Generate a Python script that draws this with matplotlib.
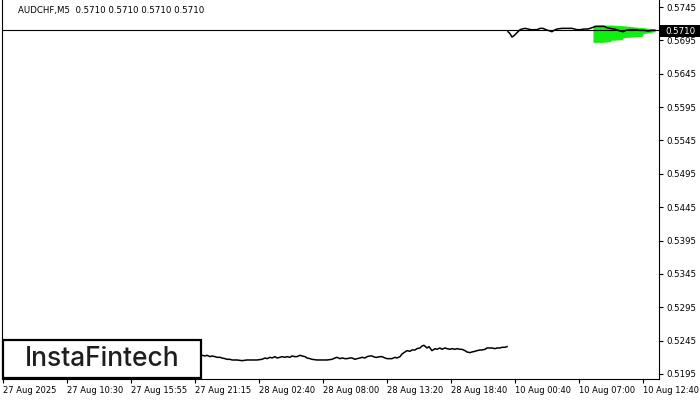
import matplotlib
matplotlib.use("Agg")
import matplotlib.pyplot as plt
from matplotlib.patches import Rectangle

# ---------------- data ----------------
title_text = "AUDCHF,M5  0.5710 0.5710 0.5710 0.5710"
last_price = 0.5710

xtick_positions = [1, 65, 129, 193, 257, 321, 385, 449, 513, 577, 641]
xtick_labels = ["27 Aug 2025", "27 Aug 10:30", "27 Aug 15:55", "27 Aug 21:15",
                "28 Aug 02:40", "28 Aug 08:00", "28 Aug 13:20", "28 Aug 18:40",
                "10 Aug 00:40", "10 Aug 07:00", "10 Aug 12:40"]
ytick_values = [0.5745, 0.5695, 0.5645, 0.5595, 0.5545, 0.5495,
                0.5445, 0.5395, 0.5345, 0.5295, 0.5245, 0.5195]

lower_x = [190, 195, 200, 203, 205, 208, 210, 213, 215, 218, 220, 223, 225, 228, 230,
           235, 240, 245, 250, 255, 260, 263, 265, 268, 270, 273, 275, 278, 280, 283,
           285, 288, 290, 293, 295, 298, 300, 303, 305, 308, 310, 315, 320, 325, 330,
           333, 335, 338, 340, 343, 345, 348, 350, 353, 355, 358, 360, 363, 365, 368,
           370, 373, 375, 378, 380, 383, 385, 388, 390, 393, 395, 398, 400, 403, 405,
           408, 410, 413, 415, 418, 420, 422, 425, 427, 430, 433, 435, 438, 440, 443,
           445, 448, 450, 453, 455, 458, 460, 463, 465, 468, 470, 473, 475, 478, 480,
           483, 485, 488, 490, 493, 495, 498, 500, 503, 505]
lower_close = [0.5223, 0.5223, 0.5223, 0.5222, 0.5223, 0.5221, 0.5222, 0.5221, 0.5220,
               0.5220, 0.5219, 0.5218, 0.5217, 0.5217, 0.5216,
               0.5216, 0.5215, 0.5216, 0.5216, 0.5216, 0.5217, 0.5219, 0.5218, 0.5220,
               0.5219, 0.5221, 0.5219, 0.5220, 0.5221, 0.5220,
               0.5221, 0.5220, 0.5222, 0.5221, 0.5221, 0.5223, 0.5222, 0.5221, 0.5219,
               0.5218, 0.5217, 0.5216, 0.5216, 0.5216, 0.5217,
               0.5219, 0.5220, 0.5218, 0.5219, 0.5218, 0.5218, 0.5219, 0.5219, 0.5217,
               0.5218, 0.5219, 0.5220, 0.5219, 0.5221, 0.5222,
               0.5222, 0.5220, 0.5220, 0.5221, 0.5221, 0.5219, 0.5218, 0.5218, 0.5218,
               0.5220, 0.5219, 0.5221, 0.5225, 0.5228, 0.5230,
               0.5229, 0.5231, 0.5231, 0.5233, 0.5234, 0.5237, 0.5238, 0.5234, 0.5236,
               0.5230, 0.5233, 0.5232, 0.5234, 0.5232, 0.5234,
               0.5233, 0.5232, 0.5233, 0.5232, 0.5233, 0.5232, 0.5232, 0.5230, 0.5228,
               0.5227, 0.5228, 0.5229, 0.5230, 0.5231, 0.5231,
               0.5232, 0.5234, 0.5234, 0.5234, 0.5233, 0.5234, 0.5234, 0.5235, 0.5235,
               0.5236]

upper_x = [506, 508, 510, 512, 514, 516, 518, 520, 523, 526, 529, 532, 535, 538, 541,
           544, 546, 548, 550, 552, 555, 560, 565, 570, 575, 578, 582, 586, 590, 594,
           598, 602, 605, 608, 612, 615, 618, 621, 624, 627, 630, 634, 638, 642, 646,
           650, 653]
upper_close = [0.5708, 0.5705, 0.5700, 0.5702, 0.5705, 0.5708, 0.5711, 0.5712, 0.5713,
               0.5712, 0.5711, 0.5711, 0.5711, 0.5713, 0.5713,
               0.5711, 0.5710, 0.5709, 0.5708, 0.5710, 0.5712, 0.5713, 0.5713, 0.5713,
               0.5711, 0.5711, 0.5712, 0.5712, 0.5714, 0.5716,
               0.5716, 0.5716, 0.5714, 0.5713, 0.5712, 0.5711, 0.5709, 0.5708, 0.5710,
               0.5711, 0.5711, 0.5711, 0.5710, 0.5710, 0.5709,
               0.5710, 0.5710]

pattern_x = [591, 600, 608, 609, 620, 621, 640, 641, 653]
pattern_top = [0.5718, 0.5718, 0.5718, 0.5718, 0.5717, 0.5717, 0.5714, 0.5714, 0.5712]
pattern_bottom = [0.5692, 0.5692, 0.5693, 0.5695, 0.5696, 0.5699, 0.5701, 0.5705, 0.5708]

# ---------------- figure ----------------
W, H = 700, 400
fig = plt.figure(figsize=(7, 4), dpi=100)
fig.patch.set_facecolor("white")
ax = fig.add_axes([2 / W, 21 / H, 657 / W, 379 / H])
ax.set_facecolor("white")

ax.set_xlim(0, 657)
ax.set_ylim(0.51875, 0.57555)

ax.fill_between(pattern_x, pattern_bottom, pattern_top, color="#11ee11", lw=0, zorder=2)
ax.axhline(last_price, color="black", lw=0.8, zorder=3)
ax.plot(lower_x, lower_close, color="black", lw=1.1, zorder=4)
ax.plot(upper_x, upper_close, color="black", lw=1.1, zorder=4)

for s in ["left", "right", "bottom"]:
    ax.spines[s].set_linewidth(0.8)
    ax.spines[s].set_color("black")
ax.spines["top"].set_visible(False)

ax.yaxis.tick_right()
ax.set_yticks(ytick_values)
ax.set_yticklabels([f"{v:.4f}" for v in ytick_values])
ax.tick_params(axis="y", direction="out", length=3, width=0.8, pad=2,
               labelsize=6.2, labelcolor="black", left=False)
ax.set_xticks(xtick_positions)
ax.set_xticklabels(xtick_labels)
ax.tick_params(axis="x", direction="out", length=3, width=0.8, pad=2,
               labelsize=6, labelcolor="black")
for lab in ax.get_xticklabels():
    lab.set_horizontalalignment("left")

# price label box on right axis
fig.patches.append(Rectangle((659 / W, 1 - 37 / H), 41 / W, 12 / H, transform=fig.transFigure,
                             fc="black", ec="none", zorder=10))
fig.text(665 / W, 1 - 31 / H, f"{last_price:.4f}", fontsize=6.2, color="white",
         ha="left", va="center", zorder=11)

# title
fig.text(18 / W, 1 - 11 / H, title_text, fontsize=6.2, color="black", ha="left", va="center")

# logo box
fig.patches.append(Rectangle((3 / W, 1 - 378 / H), 198 / W, 38 / H, transform=fig.transFigure,
                             fc="white", ec="black", lw=1.6, zorder=20))
fig.text(102 / W, 1 - 359 / H, "InstaFintech", fontsize=19, color="#1e1e1e",
         ha="center", va="center", zorder=21, family=["Inter", "DejaVu Sans"],
         fontweight="medium")

fig.savefig("out.png", dpi=100)
